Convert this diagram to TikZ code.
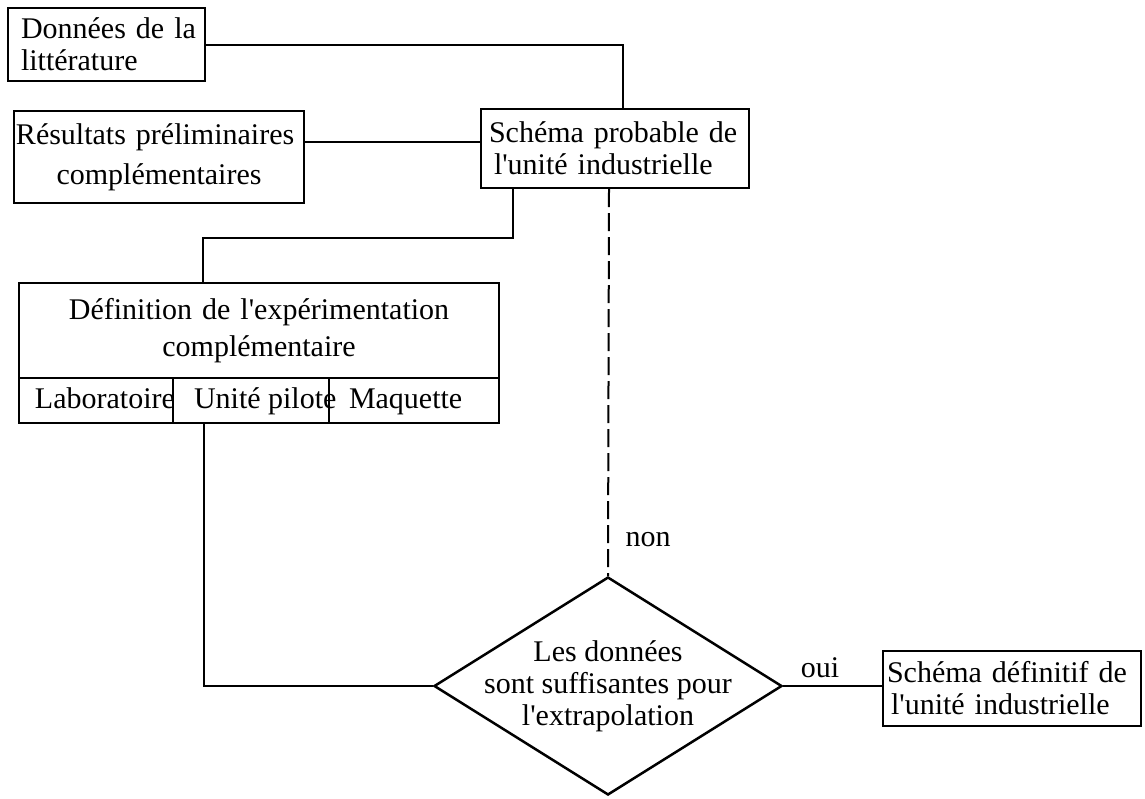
\documentclass[tikz,border=0pt]{standalone}
\usepackage{fontspec}
\setmainfont{Liberation Serif}
\usetikzlibrary{shapes.geometric}
\newcommand\myfs{\fontsize{30}{32}\selectfont}
\newcommand\ap{\textquotesingle}
\begin{document}
\begin{tikzpicture}[x=1pt,y=-1pt,
  box/.style={draw, line width=2pt, anchor=north west, inner ysep=0pt, font=\myfs},
  cell/.style={draw, line width=2pt, anchor=north west, inner sep=0pt, minimum height=45pt, text height=21pt, text depth=6pt, font=\myfs},
  decision/.style={draw, diamond, line width=2.5pt, inner sep=0pt, minimum width=348pt, minimum height=218pt},
  lbl/.style={font=\myfs, inner sep=0pt},
  ln/.style={line width=2pt},
  dashln/.style={line width=2pt, dash pattern=on 18pt off 6pt}
]
\useasboundingbox (0,0) rectangle (1145,798);

\node[box, minimum height=73pt, text width=171pt, inner xsep=13pt, align=left] (don) at (7,7)
  {\mbox{Données de la}\\\mbox{littérature}};
\node[box, minimum height=92pt, text width=286pt, inner xsep=2pt, align=center] (res) at (13,110)
  {\makebox[286pt][l]{Résultats préliminaires}\\[8pt]complémentaires};
\node[box, minimum height=79pt, text width=252pt, inner xsep=8pt, align=left] (sch) at (480,108)
  {\mbox{Schéma probable de}\\\mbox{\hspace*{5pt}l\ap unité industrielle}};
\node[box, minimum height=95pt, text width=470pt, inner xsep=5pt, align=center] (def) at (18,282)
  {Définition de l\ap expérimentation\\[5pt]complémentaire};
\node[cell] (lab) at (18,377) {\makebox[154pt][l]{\hspace*{16pt}Laboratoire}};
\node[cell] (uni) at (172,377) {\makebox[156pt][l]{\hspace*{21pt}Unité pilote}};
\node[cell] (maq) at (328,377) {\makebox[170pt][l]{\hspace*{20pt}Maquette}};

\node[decision] (dia) at (608,686) {};
\node[lbl, align=center] (dtxt) at (dia.center)
  {Les données\\sont suffisantes pour\\l\ap extrapolation};

\node[box, minimum height=75pt, text width=250pt, inner xsep=4pt, align=left] (fin) at (882,650)
  {\mbox{Schéma définitif de}\\\mbox{\hspace*{4pt}l\ap unité industrielle}};

\node[lbl] (non) at (648,540) {non};
\node[lbl] (oui) at (820,668) {oui};

\coordinate (j) at (203,238);
\draw[ln] (don.east) -| ([xshift=8pt]sch.north);
\draw[ln] ([yshift=15pt]res.east) -- ([yshift=15pt]res.east -| sch.west);
\draw[ln] ([xshift=-102pt]sch.south) |- (j) -- (j |- def.north);
\draw[ln] ([xshift=-47pt]uni.south) |- (dia.west);
\draw[dashln] ([xshift=-6pt]sch.south) -- (dia.north);
\draw[ln] (dia.east) -- (dia.east -| fin.west);
\end{tikzpicture}
\end{document}
